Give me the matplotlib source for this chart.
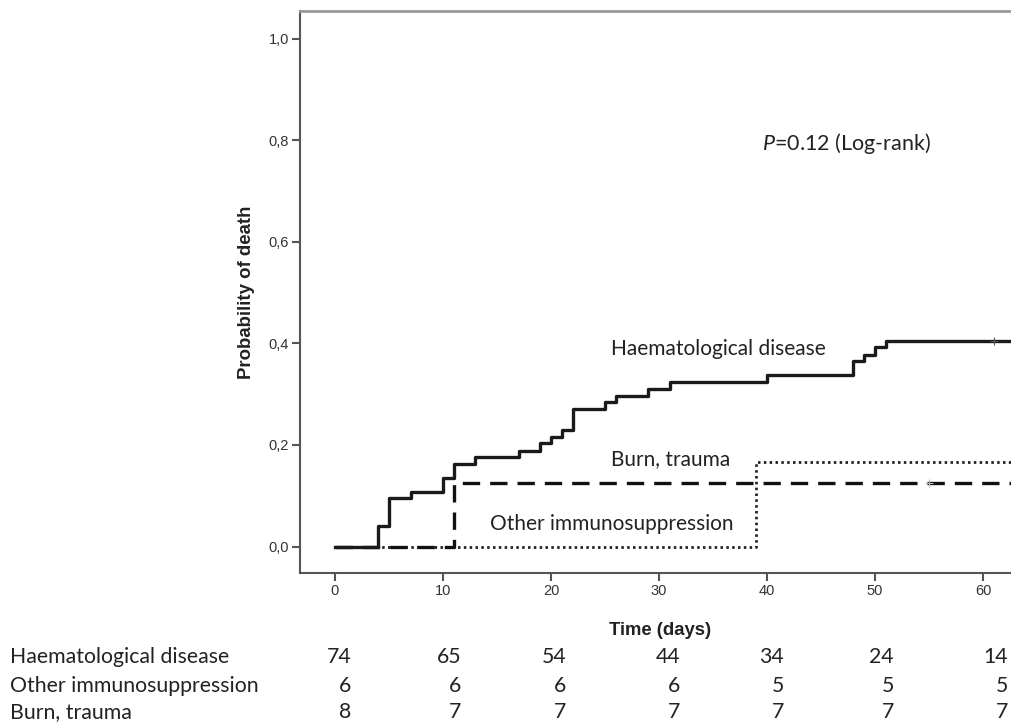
import numpy as np
import matplotlib
matplotlib.use("Agg")
import matplotlib.pyplot as plt

# Kaplan-Meier step points (time in days, cumulative probability of death)
haem_t = [0, 4, 5, 7, 10, 11, 13, 17, 19, 20, 21, 22, 25, 26, 29, 31, 40, 48, 49, 50, 51, 63]
haem_p = [0, 0.041, 0.095, 0.108, 0.135, 0.162, 0.176, 0.189, 0.203, 0.216, 0.230, 0.270,
          0.284, 0.297, 0.311, 0.324, 0.338, 0.365, 0.378, 0.392, 0.405, 0.405]
other_t = [0, 39, 63]
other_p = [0, 0.167, 0.167]
burn_t = [0, 11, 63]
burn_p = [0, 0.125, 0.125]

haem_cens_t, haem_cens_p = [61], [0.405]
burn_cens_t, burn_cens_p = [55], [0.125]

# numbers at risk
risk_groups = ["Haematological disease", "Other immunosuppression", "Burn, trauma"]
risk_haem = [74, 65, 54, 44, 34, 24, 14]
risk_other = [6, 6, 6, 6, 5, 5, 5]
risk_burn = [8, 7, 7, 7, 7, 7, 7]

W, H = 1011, 722
fig = plt.figure(figsize=(W / 100, H / 100), dpi=100)
ax_w = 1 - 300 / W + 0.01
ax = fig.add_axes([300 / W, 1 - 573 / H, ax_w, (573 - 10.7) / H])

lab_font = "Lato"
plt.rcParams["mathtext.fontset"] = "custom"
plt.rcParams["mathtext.it"] = "Lato:italic"
plt.rcParams["mathtext.rm"] = "Lato"

ax.step(other_t, other_p, where="post", color="#222222", lw=2.0,
        linestyle=(0, (0.9, 1.2)), zorder=2)
ax.step(burn_t, burn_p, where="post", color="#111111", lw=2.4,
        linestyle=(0, (5.2, 3.0)), zorder=3)
ax.step(haem_t, haem_p, where="post", color="#1a1a1a", lw=2.4, zorder=4)
ax.plot(haem_cens_t, haem_cens_p, "+", color="#555555", ms=6, mew=0.8, zorder=5)
ax.plot(burn_cens_t, burn_cens_p, "+", color="#bbbbbb", ms=6, mew=0.8, zorder=5)

ax.set_xlim(-3.24, (300 + ax_w * W - 335) / 10.8)
ax.set_ylim(-0.052, 1.055)
ax.set_xticks([0, 10, 20, 30, 40, 50, 60])
ax.set_yticks([0, 0.2, 0.4, 0.6, 0.8, 1.0])
ax.set_yticklabels(["0,0", "0,2", "0,4", "0,6", "0,8", "1,0"])

for s in ["left", "bottom"]:
    ax.spines[s].set_color("#555555")
    ax.spines[s].set_linewidth(1.5)
ax.spines["top"].set_color("#999999")
ax.spines["top"].set_linewidth(2.0)
ax.spines["right"].set_visible(False)
ax.tick_params(direction="out", length=6, width=1.5, color="#555555",
               labelsize=10.5, labelcolor="#333333", pad=2,
               labelfontfamily="Liberation Sans")

ax.set_xlabel("Time (days)", fontsize=13.3, fontweight="bold",
              fontfamily="Liberation Sans", color="#222222")
ax.set_ylabel("Probability of death", fontsize=13.4, fontweight="bold",
              fontfamily="Liberation Sans", labelpad=10, color="#222222")
ax.xaxis.set_label_coords((660 - 300) / (ax_w * W), -(622 - 573) / (573 - 10.7))

ax.text(25.6, 0.389, "Haematological disease", fontsize=15, fontfamily=lab_font,
        va="center", ha="left", color="#222222")
ax.text(25.6, 0.172, "Burn, trauma", fontsize=15, fontfamily=lab_font,
        va="center", ha="left", color="#222222")
ax.text(14.35, 0.044, "Other immunosuppression", fontsize=15, fontfamily=lab_font,
        va="center", ha="left", color="#222222")
ax.text(39.5, 0.794, r"$P$=0.12 (Log-rank)", fontsize=15.5, fontfamily=lab_font,
        va="center", ha="left", color="#222222")

# numbers-at-risk table
col_right = [351, 461, 566, 680, 784, 894, 1008]
row_y = [657, 686, 712]
for name, vals, y in zip(risk_groups, [risk_haem, risk_other, risk_burn], row_y):
    fig.text(10 / W, 1 - y / H, name, fontsize=15.3, fontfamily=lab_font,
             va="center", ha="left", color="#222222")
    for v, x in zip(vals, col_right):
        fig.text(x / W, 1 - y / H, str(v), fontsize=15.3, fontfamily=lab_font,
                 va="center", ha="right", color="#222222")

fig.savefig("out.png", dpi=100)
